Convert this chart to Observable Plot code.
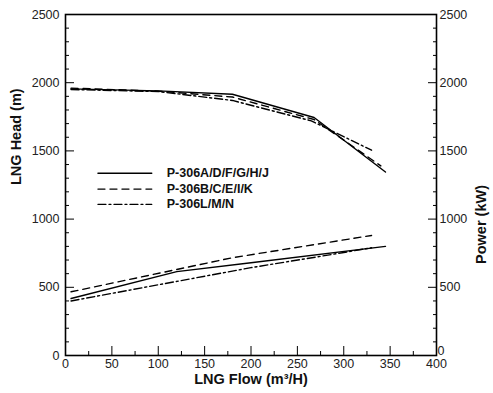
<!DOCTYPE html>
<html><head><meta charset="utf-8">
<script src="https://cdn.jsdelivr.net/npm/d3@7"></script>
<script src="https://cdn.jsdelivr.net/npm/@observablehq/plot@0.6"></script>
<style>body{margin:0;background:#fff;font-family:"Liberation Sans",Arial,sans-serif}</style>
</head><body><div id="chart"></div>
<script>
// Series names
const seriesNames = ["P-306A/D/F/G/H/J", "P-306B/C/E/I/K", "P-306L/M/N"];
// Head curves (flow m3/H, head m)
const headFlowA = [6, 100, 180, 268, 345];
const headA     = [1955, 1940, 1915, 1745, 1345];
const headFlowB = [6, 100, 180, 268, 340];
const headB     = [1960, 1938, 1895, 1730, 1390];
const headFlowC = [6, 100, 180, 265, 330];
const headC     = [1950, 1935, 1870, 1720, 1505];
// Power curves (flow m3/H, power kW)
const powFlowA = [6, 120, 200, 345];
const powA     = [418, 615, 680, 800];
const powFlowB = [6, 180, 330];
const powB     = [467, 717, 880];
const powFlowC = [6, 200, 300, 330];
const powC     = [400, 644, 755, 790];
// Ticks
const xMajor = [0, 50, 100, 150, 200, 250, 300, 350, 400];
const xMinor = [25, 75, 125, 175, 225, 275, 325, 375];
const yMajor = [0, 500, 1000, 1500, 2000, 2500];
const yMinor = [100,200,300,400,600,700,800,900,1100,1200,1300,1400,1600,1700,1800,1900,2100,2200,2300,2400];
// Legend placement in data units
const legendX = [35, 93];
const legendY = [1336, 1220, 1108];

const dashes = [null, "7,5", "8,3,2,3"];
const mk = (fx, fy, s) => fx.map((x, i) => ({x, y: fy[i], s}));
const curves = [
  mk(headFlowA, headA, 0), mk(headFlowB, headB, 1), mk(headFlowC, headC, 2),
  mk(powFlowA, powA, 0), mk(powFlowB, powB, 1), mk(powFlowC, powC, 2)
];
const legend = seriesNames.map((name, i) => ({name, i, y: legendY[i]}));

const fmt = d3.format("d");
const font = {fontSize: 12.5, fill: "#222", label: null, tickFormat: fmt};
const noText = {tickFormat: () => "", label: null};
const marks = [];
curves.forEach(c => marks.push(Plot.line(c, {x: "x", y: "y", stroke: "black", strokeWidth: 1.4, strokeDasharray: dashes[c[0].s]})));
legend.forEach(l => marks.push(Plot.line([{x: legendX[0], y: l.y}, {x: legendX[1], y: l.y}], {x: "x", y: "y", stroke: "black", strokeWidth: 1.4, strokeDasharray: dashes[l.i]})));
marks.push(Plot.text(legend, {x: legendX[1], y: "y", text: "name", dx: 15, textAnchor: "start", fontSize: 12.5, fontWeight: "bold", fill: "#111"}));
// ticks (inward)
marks.push(Plot.axisX(xMajor, {anchor: "bottom", tickSize: 9, dy: -9, ...noText}));
marks.push(Plot.axisX(xMinor, {anchor: "bottom", tickSize: 4, dy: -4, ...noText}));
marks.push(Plot.axisY(yMajor, {anchor: "left", tickSize: 9, dx: 9, ...noText}));
marks.push(Plot.axisY(yMinor, {anchor: "left", tickSize: 4, dx: 4, ...noText}));
marks.push(Plot.axisY(yMajor, {anchor: "right", tickSize: 9, dx: -9, ...noText}));
marks.push(Plot.axisY(yMinor, {anchor: "right", tickSize: 4, dx: -4, ...noText}));
// tick labels
marks.push(Plot.axisX(xMajor, {anchor: "bottom", tickSize: 0, tickPadding: 4, ...font}));
marks.push(Plot.axisY(yMajor, {anchor: "left", tickSize: 0, tickPadding: 6, ...font}));
marks.push(Plot.axisY(yMajor.slice(1), {anchor: "right", tickSize: 0, tickPadding: 3, ...font}));
marks.push(Plot.axisY([0], {anchor: "right", tickSize: 0, tickPadding: 1, dy: -5, ...font}));
marks.push(Plot.frame({stroke: "black", strokeWidth: 1.6}));
// axis titles
const tfont = {fontSize: 14.5, fontWeight: "bold", fill: "#111"};
marks.push(Plot.text(["LNG Head (m)"], {frameAnchor: "left", dx: -49, rotate: -90, ...tfont}));
marks.push(Plot.text(["Power (kW)"], {frameAnchor: "right", dx: 45, rotate: -90, ...tfont}));
marks.push(Plot.text(["LNG Flow (m\u00b3/H)"], {frameAnchor: "bottom", dy: 28, ...tfont}));

const chart = Plot.plot({
  width: 493, height: 393,
  marginLeft: 65, marginRight: 57, marginTop: 14, marginBottom: 38,
  style: {fontFamily: '"Liberation Sans", Arial, sans-serif', background: "#fff"},
  x: {domain: [0, 400], axis: null},
  y: {domain: [0, 2500], axis: null},
  marks
});
document.getElementById("chart").append(chart);
</script></body></html>
